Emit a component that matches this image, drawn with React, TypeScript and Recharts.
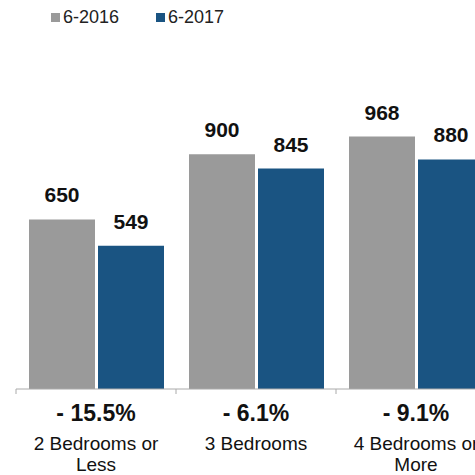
import { BarChart, Bar, XAxis, YAxis, Legend, LabelList } from 'recharts'

const categories = ['2 Bedrooms or Less', '3 Bedrooms', '4 Bedrooms or More']
const categoryLines = [['2 Bedrooms or', 'Less'], ['3 Bedrooms'], ['4 Bedrooms or', 'More']]
const changes = ['- 15.5%', '- 6.1%', '- 9.1%']
const rent2016 = [650, 900, 968]
const rent2017 = [549, 845, 880]

const FONT = '"Liberation Sans", Arial, Helvetica, sans-serif'
const GRAY = '#9a9a9a'
const BLUE = '#1a5482'

const data = categories.map((c, i) => ({ name: c, y2016: rent2016[i], y2017: rent2017[i] }))

function CategoryTick(props: any) {
  const { x, y, payload, index } = props
  const half = payload.offset ?? 0
  const lines = categoryLines[index] ?? [payload.value]
  return (
    <g>
      <line x1={x - half} x2={x - half} y1={y} y2={y + 5} stroke="#aaa" />
      <text x={x} y={y + 32} textAnchor="middle" fontFamily={FONT} fontWeight="bold" fontSize={23} fill="#111">
        {changes[index]}
      </text>
      {lines.map((l: string, k: number) => (
        <text key={k} x={x} y={y + 61 + k * 21} textAnchor="middle" fontFamily={FONT} fontSize={19} fill="#111">
          {l}
        </text>
      ))}
    </g>
  )
}

function LegendBox({ payload }: any) {
  return (
    <div style={{ display: 'flex', height: 30, paddingLeft: 51, paddingTop: 7, boxSizing: 'border-box', fontFamily: FONT, fontSize: 18, color: '#222' }}>
      {(payload || []).map((p: any) => (
        <div key={p.value} style={{ display: 'flex', alignItems: 'center', width: 105, height: 20 }}>
          <span style={{ display: 'inline-block', width: 9, height: 9, background: p.color, marginRight: 3 }} />
          <span>{p.value}</span>
        </div>
      ))}
    </div>
  )
}

export default function App() {
  return (
    <div style={{ position: 'fixed', top: 0, left: 0, width: 475, height: 475, overflow: 'hidden', background: '#fff' }}>
      <BarChart width={500} height={475} data={data} margin={{ top: 46, right: 4, bottom: 0, left: 16 }} barGap={3} barCategoryGap={13}>
        <Legend verticalAlign="top" content={<LegendBox />} wrapperStyle={{ top: 0, left: 0, width: 475 }} />
        <YAxis hide domain={[0, 1200]} />
        <XAxis
          dataKey="name"
          height={86}
          tickLine={false}
          tickSize={0}
          tickMargin={0}
          axisLine={{ stroke: '#aaa' }}
          interval={0}
          tick={<CategoryTick />}
        />
        <Bar dataKey="y2016" name="6-2016" fill={GRAY} isAnimationActive={false}>
          <LabelList dataKey="y2016" position="top" offset={17} fill="#111" fontFamily={FONT} fontWeight="bold" fontSize={21} />
        </Bar>
        <Bar dataKey="y2017" name="6-2017" fill={BLUE} isAnimationActive={false}>
          <LabelList dataKey="y2017" position="top" offset={17} fill="#111" fontFamily={FONT} fontWeight="bold" fontSize={21} />
        </Bar>
      </BarChart>
    </div>
  )
}
